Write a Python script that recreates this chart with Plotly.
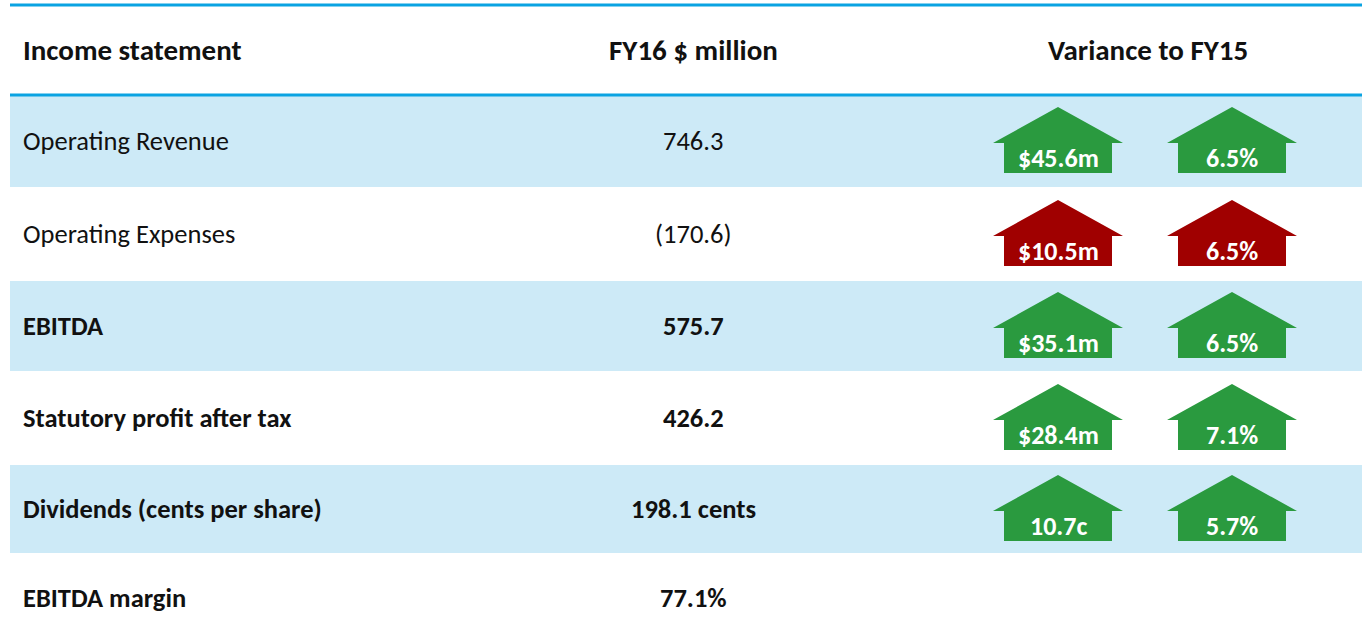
import plotly.graph_objects as go

# ---------------- data ----------------
header = ["Income statement", "FY16 $ million", "Variance to FY15"]
row_labels = ["Operating Revenue", "Operating Expenses", "EBITDA",
              "Statutory profit after tax", "Dividends (cents per share)", "EBITDA margin"]
row_values = ["746.3", "(170.6)", "575.7", "426.2", "198.1 cents", "77.1%"]
row_bold = [False, False, True, True, True, True]
var_abs = ["$45.6m", "$10.5m", "$35.1m", "$28.4m", "10.7c", None]
var_pct = ["6.5%", "6.5%", "6.5%", "7.1%", "5.7%", None]
var_favourable = [True, False, True, True, True, None]

# ---------------- style / layout ----------------
W, H = 1362, 643
FONT = "Carlito, Lato, sans-serif"
SIZE_HEAD, SIZE_ROW, SIZE_ARROW = 29, 26.5, 26
BLUE_LINE = "#0aa3e2"
BAND = "#cdeaf7"
GREEN = "#2a9a3f"
RED = "#a00000"
row_bounds = [95, 187, 281, 371, 465, 553, 643]
x_left, x_mid, x_var = 21, 693, 1148
arrow_cx = [1058, 1232]
head_half, body_half = 65, 54
tip_off, shoulder_off, bottom_off = -34, 2, 32

fig = go.Figure()
shapes = []
annotations = []


def txt(x, y, s, bold, anchor, size, color="#111111"):
    annotations.append(dict(
        x=x, y=y, text=("<b>%s</b>" % s) if bold else s, xanchor=anchor,
        font=dict(family=FONT, size=size, color=color)))


# header
header_y = 50
txt(x_left, header_y, header[0], True, "left", SIZE_HEAD)
txt(x_mid, header_y, header[1], True, "center", SIZE_HEAD)
txt(x_var, header_y, header[2], True, "center", SIZE_HEAD)

for i, lab in enumerate(row_labels):
    y0, y1 = row_bounds[i], row_bounds[i + 1]
    cy = (y0 + y1) / 2
    if i % 2 == 0:
        shapes.append(dict(type="rect", x0=10, x1=W, y0=y0, y1=y1, fillcolor=BAND,
                           line=dict(width=0), layer="below"))
    txt(x_left, cy, lab, row_bold[i], "left", SIZE_ROW)
    txt(x_mid, cy, row_values[i], row_bold[i], "center", SIZE_ROW)
    if var_abs[i] is not None:
        col = GREEN if var_favourable[i] else RED
        for cx, t in zip(arrow_cx, [var_abs[i], var_pct[i]]):
            xs = [cx, cx + head_half, cx + body_half, cx + body_half,
                  cx - body_half, cx - body_half, cx - head_half, cx]
            ys = [cy + tip_off, cy + shoulder_off, cy + shoulder_off, cy + bottom_off,
                  cy + bottom_off, cy + shoulder_off, cy + shoulder_off, cy + tip_off]
            fig.add_trace(go.Scatter(x=xs, y=ys, mode="lines", fill="toself",
                                     fillcolor=col, line=dict(width=0, color=col),
                                     hoverinfo="skip", showlegend=False))
            txt(cx, cy + 16.5, t, True, "center", SIZE_ARROW, color="white")

# blue rules
for yy in (5, 95):
    shapes.append(dict(type="line", x0=10, x1=W, y0=yy, y1=yy,
                       line=dict(color=BLUE_LINE, width=3)))

for a in annotations:
    a.update(xref="x", yref="y", yanchor="middle", showarrow=False)

fig.update_layout(
    width=W, height=H, margin=dict(l=0, r=0, t=0, b=0),
    paper_bgcolor="white", plot_bgcolor="white",
    xaxis=dict(range=[0, W], visible=False, fixedrange=True),
    yaxis=dict(range=[H, 0], visible=False, fixedrange=True),
    shapes=shapes, annotations=annotations,
)
fig.write_html("out.html", config={"displayModeBar": False},
               post_script="document.body.style.margin='0';")
